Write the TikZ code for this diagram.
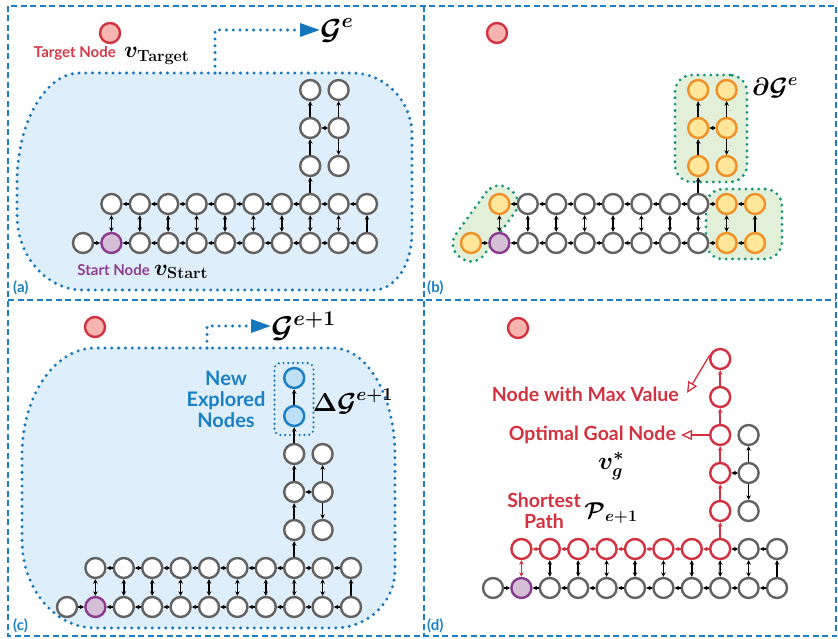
\RequirePackage{fix-cm}
\documentclass[tikz,border=0pt]{standalone}
\usepackage{bm}
\usepackage[no-math]{fontspec}
\setmainfont{Lato}
\usetikzlibrary{arrows.meta,calc}
\definecolor{frameblue}{RGB}{31,125,196}
\definecolor{blobblue}{RGB}{22,118,188}
\definecolor{blobfill}{RGB}{222,238,250}
\definecolor{nodegray}{RGB}{98,98,98}
\definecolor{startpurple}{RGB}{138,59,143}
\definecolor{startfill}{RGB}{213,191,214}
\definecolor{orangeline}{RGB}{240,145,40}
\definecolor{orangefill}{RGB}{255,230,153}
\definecolor{greendot}{RGB}{18,147,122}
\definecolor{greenfill}{RGB}{226,240,217}
\definecolor{newblue}{RGB}{27,125,194}
\definecolor{newfill}{RGB}{189,224,245}
\definecolor{pathred}{RGB}{210,50,63}
\definecolor{targetfill}{RGB}{248,181,176}
\definecolor{labelred}{RGB}{211,58,72}
\definecolor{labelpurple}{RGB}{142,61,143}
\definecolor{labelblue}{RGB}{27,128,196}
\tikzset{
  gnode/.style={circle, minimum size=20pt, inner sep=0pt, draw=nodegray, fill=white, line width=2.4pt},
  snode/.style={gnode, draw=startpurple, fill=startfill},
  onode/.style={gnode, draw=orangeline, fill=orangefill},
  bnode/.style={gnode, draw=newblue, fill=newfill},
  rnode/.style={gnode, draw=pathred},
  tnode/.style={gnode, draw=pathred, fill=targetfill},
  eH/.style={-{Stealth[length=4.5pt,width=4.5pt]}, line width=1.5pt, black},
  eV/.style={{Stealth[length=4.5pt,width=4.5pt]}-{Stealth[length=4.5pt,width=4.5pt]}, line width=1.5pt, black},
  sB1/.style=gnode, sT2/.style=gnode, sTm/.style=gnode, sT9/.style=gnode,
  sTr/.style=gnode, sBr/.style=gnode, sC/.style=gnode, sD/.style=gnode, sCx/.style=gnode,
  sEt/.style=eH, sEc/.style=eH, sEv/.style=eV,
  frameline/.style={draw=frameblue, line width=1.6pt, dash pattern=on 6pt off 3.5pt},
  blobline/.style={draw=blobblue, line width=3.3pt, line cap=round, dash pattern=on 0pt off 6.8pt},
  blobarrow/.style={blobline, -{Triangle[length=20pt,width=13pt]}},
  greg/.style={draw=greendot, fill=greenfill, line width=3.1pt, line cap=round, dash pattern=on 0pt off 6.4pt},
  newbox/.style={draw=blobblue, line width=2.4pt, line cap=round, dash pattern=on 0pt off 4.8pt, rounded corners=6pt, minimum width=39pt, minimum height=72pt},
  smalllab/.style={font=\fontsize{15}{18}\selectfont\bfseries, inner sep=0pt},
  biglab/.style={font=\fontsize{19.5}{21}\selectfont\bfseries, inner sep=0pt, text=pathred},
  panellab/.style={font=\fontsize{15}{17}\selectfont\bfseries, text=labelblue, inner sep=0pt, anchor=base west},
  mathlab/.style={inner sep=0pt},
  openarrow/.style={draw=pathred, line width=1.3pt, -{Triangle[open,length=11pt,width=10pt]}}
}
\newcommand{\mygraph}[2]{%
  \node[sB1] (#1B1) at (83,243) {};
  \node[snode] (#1B2) at (111.4,243) {};
  \foreach \i in {3,...,9}{\node[gnode] (#1B\i) at ({83+(\i-1)*28.4},243) {};}
  \node[sBr] (#1B10) at (338.6,243) {};
  \node[sBr] (#1B11) at (367,243) {};
  \node[sT2] (#1T2) at (111.4,204) {};
  \foreach \i in {3,...,8}{\node[sTm] (#1T\i) at ({83+(\i-1)*28.4},204) {};}
  \node[sT9] (#1T9) at (310.2,204) {};
  \node[sTr] (#1T10) at (338.6,204) {};
  \node[sTr] (#1T11) at (367,204) {};
  \node[sC] (#1C1) at (310.2,166) {};
  \node[sC] (#1C2) at (310.2,128) {};
  \node[sC] (#1C3) at (310.2,90) {};
  \node[sD] (#1D1) at (338.6,166) {};
  \node[sD] (#1D2) at (338.6,128) {};
  \node[sD] (#1D3) at (338.6,90) {};
  \ifnum#2=1
    \node[sCx] (#1C4) at (310.2,52) {};
    \node[sCx] (#1C5) at (310.2,14) {};
    \draw[sEc] (#1C3) -- (#1C4);
    \draw[sEc] (#1C4) -- (#1C5);
  \fi
  \draw[eH] (#1B1) -- (#1B2);
  \foreach \i in {2,...,10}{\pgfmathtruncatemacro\j{\i+1}\draw[eH] (#1B\j) -- (#1B\i);}
  \foreach \i in {2,...,8}{\pgfmathtruncatemacro\j{\i+1}\draw[sEt] (#1T\j) -- (#1T\i);}
  \draw[eH] (#1T10) -- (#1T9);
  \draw[eH] (#1T11) -- (#1T10);
  \draw[sEv] (#1B2) -- (#1T2);
  \foreach \i in {3,...,10}{\draw[eV] (#1B\i) -- (#1T\i);}
  \draw[eH] (#1B11) -- (#1T11);
  \draw[sEc] (#1T9) -- (#1C1);
  \draw[sEc] (#1C1) -- (#1C2);
  \draw[sEc] (#1C2) -- (#1C3);
  \draw[eH] (#1D2) -- (#1C2);
  \draw[eH] (#1D2) -- (#1D3);
  \draw[eH] (#1D2) -- (#1D1);
}
\begin{document}
\begin{tikzpicture}[x=1pt,y=-1pt]
\useasboundingbox (0,0) rectangle (838,639);
% frames
\draw[frameline] (8,6) rectangle (836,636);
\draw[frameline] (8,300) -- (836,300);
\draw[frameline] (424,6) -- (424,636);

% ---------- panel (a) ----------
\coordinate (ca) at (215,73);
\fill[blobfill] (ca) -- (80,73) .. controls (45.2,73) and (17,122.3) .. (17,183) -- (17,215)
  .. controls (17,256.4) and (46.6,290) .. (83,290) -- (374,290)
  .. controls (395,290) and (412,264.5) .. (412,233) -- (412,135)
  .. controls (412,100.8) and (385.1,73) .. (352,73) -- cycle;
\draw[blobline] (ca) -- (80,73) .. controls (45.2,73) and (17,122.3) .. (17,183) -- (17,215)
  .. controls (17,256.4) and (46.6,290) .. (83,290) -- (374,290)
  .. controls (395,290) and (412,264.5) .. (412,233) -- (412,135)
  .. controls (412,100.8) and (385.1,73) .. (352,73) -- cycle;
\mygraph{a}{0}
\node[tnode] (atarget) at (110,33) {};
\node[smalllab, text=labelred, anchor=base east] (atl) at (116,58) {Target Node};
\node[mathlab, anchor=base west, font=\fontsize{23}{26}\selectfont] (atv) at (124,58) {$\bm{v}_{\mathbf{Target}}$};
\node[smalllab, text=labelpurple, anchor=base east] (asl) at (150,275) {Start Node};
\node[mathlab, anchor=base west, font=\fontsize{23}{26}\selectfont] (asv) at (154,275) {$\bm{v}_{\mathbf{Start}}$};
\node[mathlab, anchor=west, font=\fontsize{29}{32}\selectfont] (ge) at (320,30) {$\bm{\mathcal{G}}^{\bm{e}}$};
\draw[blobarrow] (ca) |- (ge.west);
\node[panellab] (la) at (13,292) {(a)};

% ---------- panel (b) ----------
\node[greg, rotate=54, minimum width=84pt, minimum height=35pt, rounded corners=16pt] (r1) at (485.2,223.5) {};
\node[greg, minimum width=72pt, minimum height=107pt, rounded corners=17pt] (r2) at (711,128.5) {};
\node[greg, minimum width=76pt, minimum height=70pt, rounded corners=17pt] (r3) at (744,224) {};
\begin{scope}[shift={(388,0)}, sB1/.style=onode, sT2/.style=onode, sTr/.style=onode,
  sBr/.style=onode, sC/.style=onode, sD/.style=onode]
\mygraph{b}{0}
\end{scope}
\node[tnode] (btarget) at (497,33) {};
\node[mathlab, font=\fontsize{25}{28}\selectfont] (bdg) at (775,88) {$\bm{\partial\mathcal{G}}^{\bm{e}}$};
\node[panellab] (lb) at (427,292) {(b)};

% ---------- panel (c) ----------
\coordinate (cb) at (207,348);
\fill[blobfill] (cb) -- (95,348) .. controls (54.7,348) and (22,395.9) .. (22,455) -- (22,540)
  .. controls (22,588.6) and (54.7,628) .. (95,628) -- (335,628)
  .. controls (368,628) and (395,602) .. (395,570) -- (395,455)
  .. controls (395,396) and (367.2,348) .. (333,348) -- cycle;
\draw[blobline] (cb) -- (95,348) .. controls (54.7,348) and (22,395.9) .. (22,455) -- (22,540)
  .. controls (22,588.6) and (54.7,628) .. (95,628) -- (335,628)
  .. controls (368,628) and (395,602) .. (395,570) -- (395,455)
  .. controls (395,396) and (367.2,348) .. (333,348) -- cycle;
\node[newbox] (nbox) at (294,399) {};
\begin{scope}[shift={(-16,364)}, sCx/.style=bnode]
\mygraph{c}{1}
\end{scope}
\node[tnode] (ctarget) at (95,327) {};
\node[mathlab, anchor=west, font=\fontsize{30}{34}\selectfont] (ge1) at (271,326) {$\bm{\mathcal{G}}^{\bm{e+1}}$};
\draw[blobarrow] (cb) |- (ge1.west);
\node[font=\fontsize{20}{21}\selectfont\bfseries, text=labelblue, align=center, inner sep=0pt] (newl) at (226,399) {New\\Explored\\Nodes};
\node[mathlab, font=\fontsize{26}{30}\selectfont] (dg) at (353,401) {$\bm{\Delta\mathcal{G}}^{\bm{e+1}}$};
\node[panellab] (lc) at (13,630) {(c)};

% ---------- panel (d) ----------
\begin{scope}[shift={(410,345)}, sT2/.style=rnode, sTm/.style=rnode, sT9/.style=rnode,
  sC/.style=rnode, sCx/.style=rnode,
  sEt/.style={eH, draw=pathred}, sEc/.style={eH, draw=pathred}, sEv/.style={eV, draw=pathred}]
\mygraph{d}{1}
\end{scope}
\node[tnode] (dtarget) at (518,328) {};
\node[biglab, anchor=east] (maxl) at (679,394) {Node with Max Value};
\coordinate (mvt) at (687,393);
\draw[openarrow] (dC5.160) -- (mvt);
\node[biglab, anchor=east] (ogl) at (676,435) {Optimal Goal Node};
\coordinate (ogt) at (681,435);
\draw[openarrow] (dC3.west) -- (ogt);
\node[mathlab, font=\fontsize{25}{28}\selectfont] (vg) at (611,466) {$\bm{v}_{\bm{g}}^{\bm{*}}$};
\node[biglab, align=center] (spl) at (544,511) {Shortest\\Path};
\node[mathlab, font=\fontsize{23}{26}\selectfont] (pe) at (611,513) {$\bm{\mathcal{P}}_{\bm{e+1}}$};
\node[panellab] (ld) at (427,630) {(d)};
\end{tikzpicture}
\end{document}
